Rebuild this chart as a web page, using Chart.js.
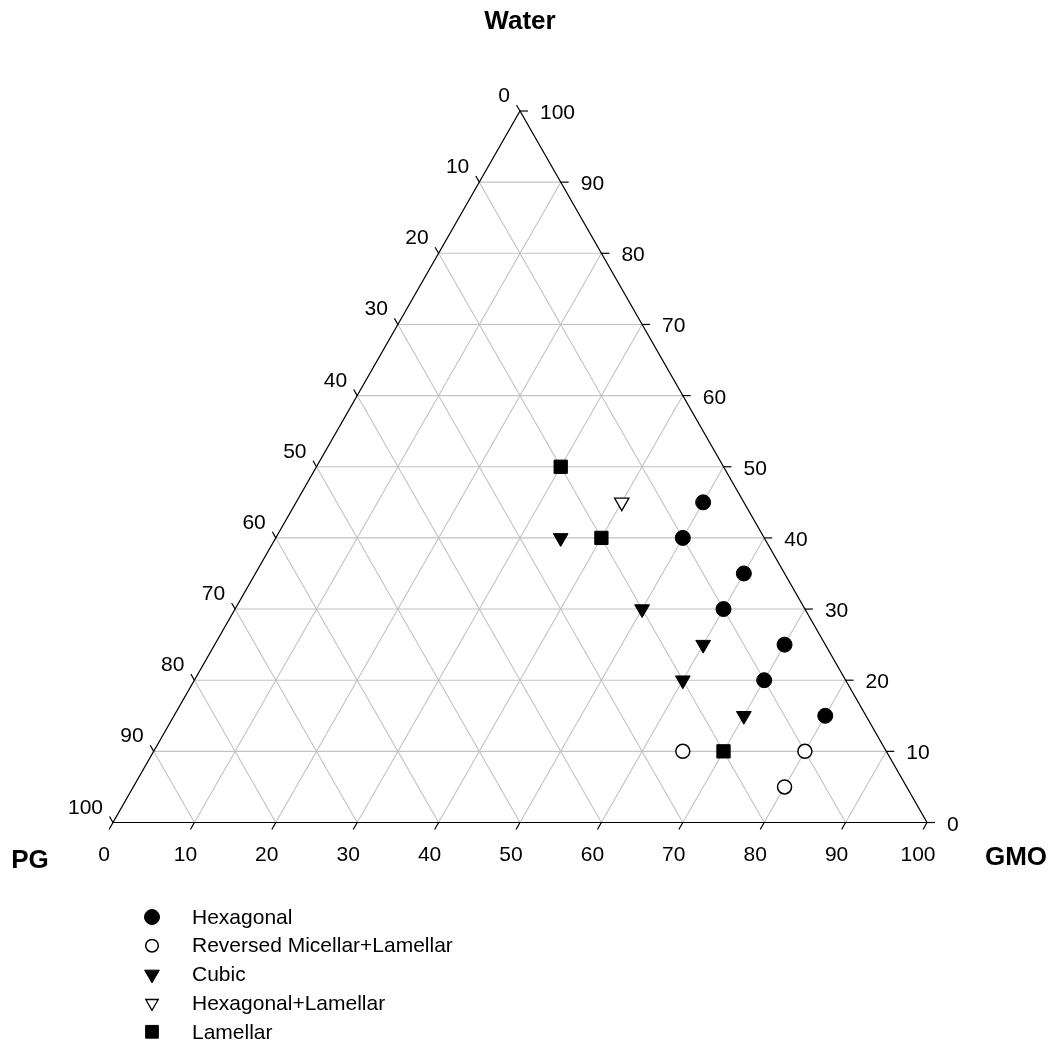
<!DOCTYPE html>
<html>
<head>
<meta charset="utf-8">
<title>PG / GMO / Water phase diagram</title>
<script src="https://cdn.jsdelivr.net/npm/chart.js@4/dist/chart.umd.min.js"></script>
<style>
  html, body { margin: 0; padding: 0; background: #ffffff; }
  #wrap { width: 1056px; height: 1045px; position: relative; }
</style>
</head>
<body>
<div id="wrap"><canvas id="phase"></canvas></div>
<script>
// Tick values shared by all three composition axes (percent)
const axisTicks = [0, 10, 20, 30, 40, 50, 60, 70, 80, 90, 100];

// Compositions in % (GMO, Water); PG makes up the remainder to 100
const hexagonalGMO   = [50, 50, 60, 60, 70, 70, 80];
const hexagonalWater = [45, 40, 35, 30, 25, 20, 15];

const reversedGMO    = [65, 80, 80];
const reversedWater  = [10, 10, 5];

const cubicGMO       = [35, 50, 60, 60, 70];
const cubicWater     = [40, 30, 25, 20, 15];

const hexLamGMO      = [40];
const hexLamWater    = [45];

const lamellarGMO    = [30, 40, 70];
const lamellarWater  = [50, 40, 10];

const seriesNames = ['Hexagonal', 'Reversed Micellar+Lamellar', 'Cubic', 'Hexagonal+Lamellar', 'Lamellar'];

// Ternary (GMO, Water) -> cartesian: x runs PG->GMO along the base, y is the water height
function toCartesian(gmo, water) {
  return gmo.map((g, i) => ({ x: g + water[i] / 2, y: water[i] }));
}

const FONT = '"Liberation Sans", Arial, Helvetica, sans-serif';

function line(ctx, a, b) {
  ctx.beginPath();
  ctx.moveTo(a[0], a[1]);
  ctx.lineTo(b[0], b[1]);
  ctx.stroke();
}

const ternaryPlugin = {
  id: 'ternaryFrame',
  beforeDatasetsDraw(chart) {
    const { ctx } = chart;
    const sx = chart.scales.x, sy = chart.scales.y;
    const P = (g, w) => [sx.getPixelForValue(g + w / 2), sy.getPixelForValue(w)];
    ctx.save();
    ctx.lineWidth = 1.1;
    ctx.strokeStyle = '#c2c2c2';
    axisTicks.forEach(v => {
      if (v <= 0 || v >= 100) return;
      line(ctx, P(0, v), P(100 - v, v));        // constant water
      line(ctx, P(v, 0), P(v, 100 - v));        // constant GMO
      line(ctx, P(100 - v, 0), P(0, 100 - v));  // constant PG
    });

    // triangle outline
    ctx.strokeStyle = '#000000';
    ctx.lineWidth = 1.2;
    const A = P(0, 0), B = P(100, 0), C = P(0, 100);
    ctx.beginPath();
    ctx.moveTo(A[0], A[1]);
    ctx.lineTo(B[0], B[1]);
    ctx.lineTo(C[0], C[1]);
    ctx.closePath();
    ctx.stroke();

    // unit direction along the left edge (bottom-left -> top)
    const ex = C[0] - A[0], ey = C[1] - A[1];
    const el = Math.hypot(ex, ey);
    const ux = ex / el, uy = ey / el;
    const tickLen = 8;

    axisTicks.forEach(v => {
      // GMO ticks on the base, continuing the constant-GMO lines downward
      const b = P(v, 0);
      line(ctx, b, [b[0] - ux * tickLen, b[1] - uy * tickLen]);
      // Water ticks on the right edge, continuing the horizontal lines
      const r = P(100 - v, v);
      line(ctx, r, [r[0] + tickLen, r[1]]);
      // PG ticks on the left edge, continuing the constant-PG lines up-left
      const l = P(0, 100 - v);
      line(ctx, l, [l[0] - ux * 7, l[1] + uy * 7]);
    });
    ctx.restore();
  },
  afterDraw(chart) {
    const { ctx } = chart;
    const sx = chart.scales.x, sy = chart.scales.y;
    const P = (g, w) => [sx.getPixelForValue(g + w / 2), sy.getPixelForValue(w)];
    ctx.save();
    ctx.fillStyle = '#000000';
    ctx.font = '21px ' + FONT;
    ctx.textBaseline = 'alphabetic';

    axisTicks.forEach(v => {
      // GMO labels
      const b = P(v, 0);
      ctx.textAlign = 'center';
      ctx.fillText(String(v), b[0] - 9, b[1] + 38);
      // Water labels
      const r = P(100 - v, v);
      ctx.textAlign = 'left';
      ctx.fillText(String(v), r[0] + 20, r[1] + 8);
      // PG labels
      const l = P(0, 100 - v);
      ctx.textAlign = 'right';
      ctx.fillText(String(v), l[0] - 10, l[1] - 9);
    });

    // corner titles
    ctx.font = 'bold 26px ' + FONT;
    ctx.textAlign = 'center';
    ctx.fillText('Water', 520, 29);
    ctx.fillText('PG', 30, 868);
    ctx.fillText('GMO', 1016, 865);

    // legend
    ctx.font = '21px ' + FONT;
    ctx.textAlign = 'left';
    ctx.textBaseline = 'middle';
    chart.data.datasets.forEach((ds, i) => {
      const y = 917 + i * 28.7;
      ctx.save();
      ctx.fillStyle = ds.backgroundColor;
      ctx.strokeStyle = ds.borderColor;
      ctx.lineWidth = ds.borderWidth;
      Chart.helpers.drawPoint(ctx, {
        pointStyle: ds.pointStyle,
        radius: ds.legendRadius,
        rotation: ds.rotation || 0,
        borderWidth: ds.borderWidth
      }, 152, y);
      ctx.restore();
      ctx.fillStyle = '#000000';
      ctx.fillText(ds.label, 192, y + 1);
    });
    ctx.restore();
  }
};

const datasets = [
  { label: seriesNames[0], data: toCartesian(hexagonalGMO, hexagonalWater),
    pointStyle: 'circle', pointRadius: 7.5, legendRadius: 7.5,
    backgroundColor: '#000000', borderColor: '#000000', borderWidth: 1 },
  { label: seriesNames[1], data: toCartesian(reversedGMO, reversedWater),
    pointStyle: 'circle', pointRadius: 7, legendRadius: 6.3,
    backgroundColor: '#ffffff', borderColor: '#000000', borderWidth: 1.5 },
  { label: seriesNames[2], data: toCartesian(cubicGMO, cubicWater),
    pointStyle: 'triangle', rotation: 180, pointRadius: 8.5, legendRadius: 8.5,
    backgroundColor: '#000000', borderColor: '#000000', borderWidth: 1 },
  { label: seriesNames[3], data: toCartesian(hexLamGMO, hexLamWater),
    pointStyle: 'triangle', rotation: 180, pointRadius: 8.3, legendRadius: 7.2,
    backgroundColor: '#ffffff', borderColor: '#000000', borderWidth: 1.3 },
  { label: seriesNames[4], data: toCartesian(lamellarGMO, lamellarWater),
    pointStyle: 'rect', pointRadius: 9.4, legendRadius: 9,
    backgroundColor: '#000000', borderColor: '#000000', borderWidth: 1 }
];
datasets.forEach(ds => {
  ds.pointRotation = ds.rotation || 0;
  ds.pointBackgroundColor = ds.backgroundColor;
  ds.pointBorderColor = ds.borderColor;
  ds.pointBorderWidth = ds.borderWidth;
  ds.pointHoverRadius = ds.pointRadius;
  ds.showLine = false;
  ds.clip = false;
});

new Chart(document.getElementById('phase'), {
  type: 'scatter',
  data: { datasets },
  options: {
    responsive: true,
    maintainAspectRatio: false,
    animation: false,
    events: [],
    layout: { padding: { left: 113, right: 129, top: 111, bottom: 222.5 } },
    scales: {
      x: { type: 'linear', min: 0, max: 100, display: false },
      y: { type: 'linear', min: 0, max: 100, display: false }
    },
    plugins: { legend: { display: false }, tooltip: { enabled: false }, title: { display: false } }
  },
  plugins: [ternaryPlugin]
});
</script>
</body>
</html>
